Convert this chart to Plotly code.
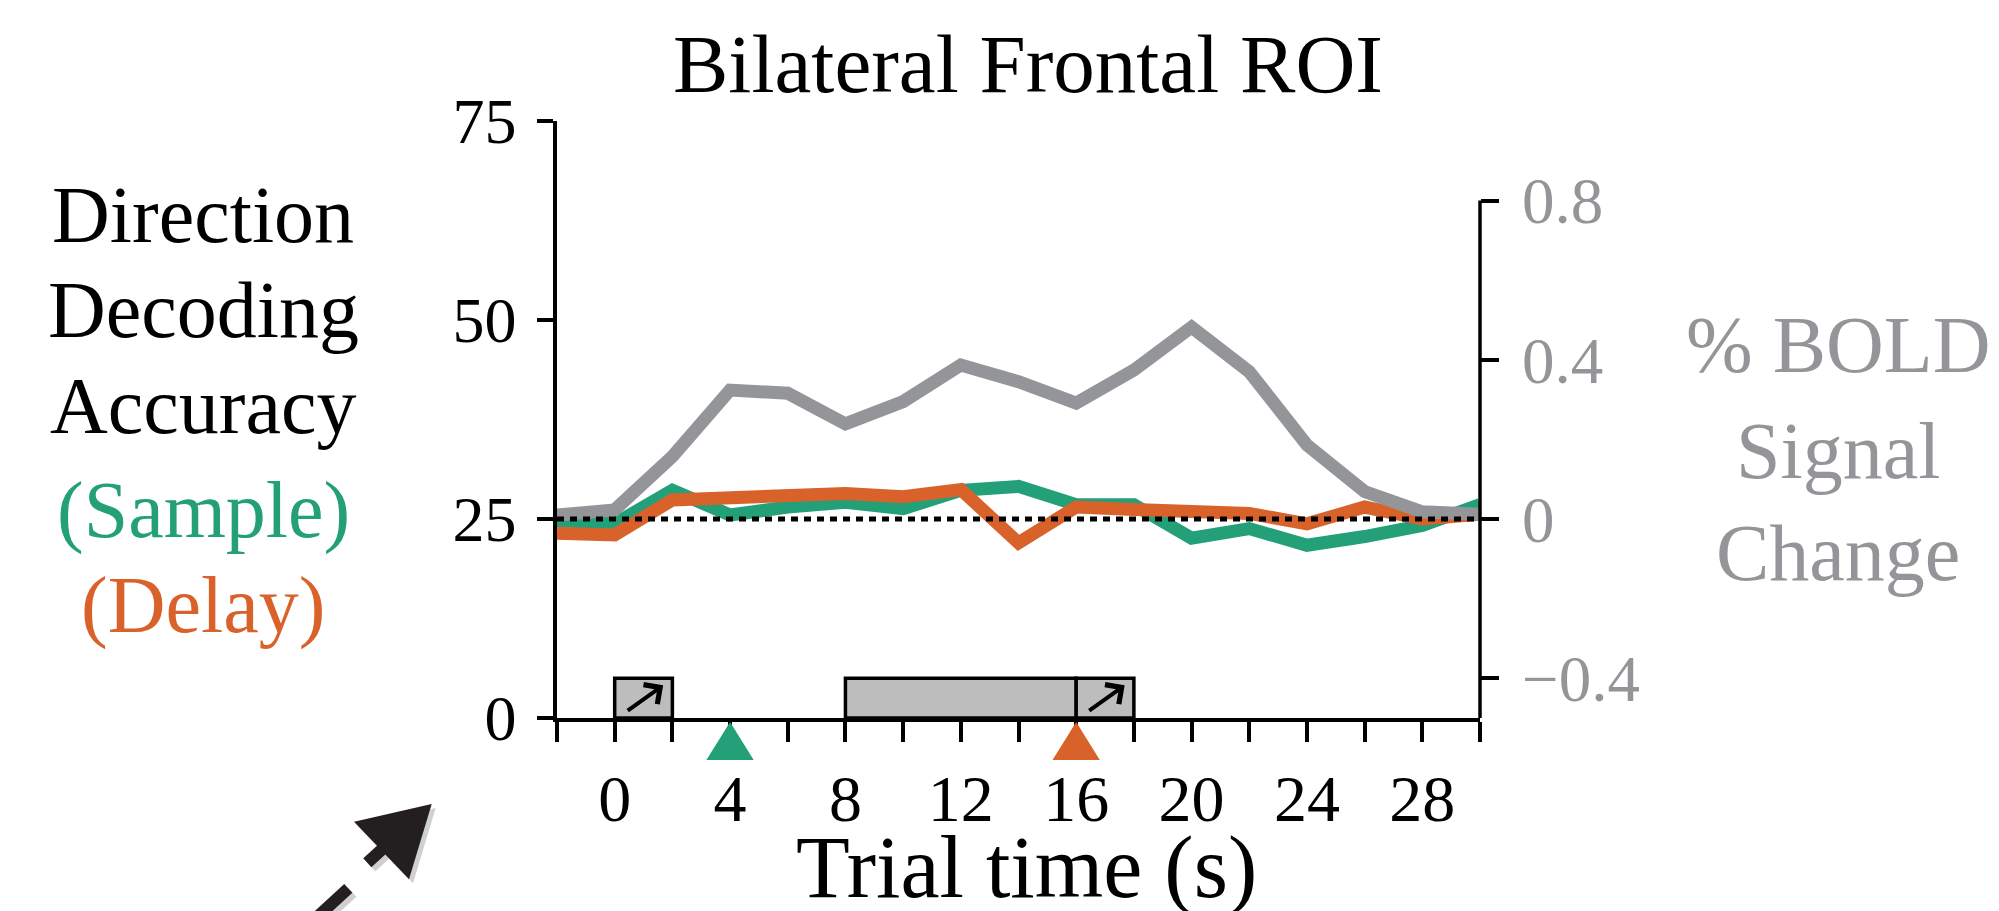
import plotly.graph_objects as go

# ---------------- data ----------------
time_s = [-2, 0, 2, 4, 6, 8, 10, 12, 14, 16, 18, 20, 22, 24, 26, 28, 30]
bold_pct = [0.010, 0.023, 0.157, 0.324, 0.316, 0.239, 0.295, 0.387, 0.345,
            0.291, 0.374, 0.482, 0.370, 0.186, 0.069, 0.018, 0.012]
sample_acc = [24.8, 24.4, 28.6, 25.5, 26.5, 27.1, 26.3, 28.6, 29.1,
              26.8, 26.8, 22.6, 23.8, 21.7, 22.8, 24.2, 26.8]
delay_acc = [23.2, 23.0, 27.4, 27.8, 27.8, 28.2, 27.8, 28.7, 22.0,
             26.5, 26.2, 25.9, 25.7, 24.4, 26.5, 25.0, 25.6]
chance_level = 25

x_tick_vals = [-2, 0, 2, 4, 6, 8, 10, 12, 14, 16, 18, 20, 22, 24, 26, 28, 30]
x_tick_text = ["", "0", "", "4", "", "8", "", "12", "", "16", "", "20", "", "24", "", "28", ""]
left_tick_vals = [0, 25, 50, 75]
left_tick_text = ["0", "25", "50", "75"]
right_tick_vals = [-0.4, 0, 0.4, 0.8]
right_tick_text = ["\u22120.4", "0", "0.4", "0.8"]

epoch_start = [0, 8, 16]
epoch_end = [2, 16, 18]
epoch_height = 5
cue_epoch_index = [0, 2]
onset_times = [4, 16]

# ---------------- styles ----------------
GREEN = "#23a078"
ORANGE = "#d9622a"
GREY = "#939598"
BOXFILL = "#bdbdbd"
FONT = "Liberation Serif"
ONSET_COLORS = [GREEN, ORANGE]
LINE_W = 13

# page body has an 8px margin: the figure is shrunk so the plot sits at
# the same screen position as the reference
PAGE_OFF = 8
SCREEN_W, SCREEN_H = 1999, 911
W, H = SCREEN_W - PAGE_OFF, SCREEN_H - PAGE_OFF
L, R, T, B = 557, 1480, 121, 718   # plot area in screen pixels


def fx(px):
    return (px - L) / (R - L)


def fy(py):
    return (B - py) / (B - T)


fig = go.Figure()

fig.add_trace(go.Scatter(x=time_s, y=bold_pct, yaxis="y2", mode="lines",
                         line=dict(color=GREY, width=LINE_W), showlegend=False,
                         hoverinfo="skip"))
fig.add_trace(go.Scatter(x=time_s, y=sample_acc, mode="lines",
                         line=dict(color=GREEN, width=LINE_W), showlegend=False,
                         hoverinfo="skip"))
fig.add_trace(go.Scatter(x=time_s, y=delay_acc, mode="lines",
                         line=dict(color=ORANGE, width=LINE_W), showlegend=False,
                         hoverinfo="skip"))

shapes = []
# chance line
shapes.append(dict(type="line", xref="x", yref="y", x0=time_s[0], x1=time_s[-1],
                   y0=chance_level, y1=chance_level,
                   line=dict(color="black", width=5, dash="7px,6px"), layer="above"))
# epoch boxes
for s, e in zip(epoch_start, epoch_end):
    shapes.append(dict(type="rect", xref="x", yref="y", x0=s, x1=e, y0=0, y1=epoch_height,
                       fillcolor=BOXFILL, line=dict(color="black", width=3.5), layer="above"))
# onset triangles below the time axis (x in data units, y in paper units)
half_w = 0.82
tri_top, tri_bot = fy(722), fy(760)
for t, c in zip(onset_times, ONSET_COLORS):
    path = "M{},{} L{},{} L{},{} Z".format(t - half_w, tri_bot, t + half_w, tri_bot, t, tri_top)
    shapes.append(dict(type="path", xref="x", yref="paper", path=path,
                       fillcolor=c, line=dict(width=0), layer="above"))
# right axis line (stops at 0.8)
shapes.append(dict(type="line", xref="paper", yref="y2", x0=1, x1=1,
                   y0=-0.5, y1=right_tick_vals[-1],
                   line=dict(color="black", width=3.5)))


# decorative dashed arrow bottom-left
def arrow_shapes(dx, dy, color, opacity):
    out = []
    tip = (431.7 + dx, 804 + dy)
    a = (354 + dx, 821.7 + dy)
    b = (409 + dx, 879.3 + dy)
    path = "M{},{} L{},{} L{},{} Z".format(fx(tip[0]), fy(tip[1]), fx(a[0]), fy(a[1]),
                                           fx(b[0]), fy(b[1]))
    out.append(dict(type="path", xref="paper", yref="paper", path=path,
                    fillcolor=color, line=dict(width=0), opacity=opacity))
    for (x0, y0, x1, y1) in [(384, 847.5, 367.3, 862.7), (348.3, 888.3, 315, 919)]:
        out.append(dict(type="line", xref="paper", yref="paper",
                        x0=fx(x0 + dx), y0=fy(y0 + dy), x1=fx(x1 + dx), y1=fy(y1 + dy),
                        line=dict(color=color, width=12), opacity=opacity))
    return out


shapes += arrow_shapes(4, 4, "#777777", 0.35)
shapes += arrow_shapes(0, 0, "#231f20", 1.0)

annotations = []
# arrows in cue boxes
for i in cue_epoch_index:
    s = epoch_start[i]
    annotations.append(dict(x=s + 1.68, y=4.1, ax=s + 0.4, ay=0.8, xref="x", yref="y",
                            axref="x", ayref="y", text="", showarrow=True, arrowhead=4,
                            arrowwidth=4, arrowsize=1.15, arrowcolor="black",
                            standoff=0, startstandoff=0))


def text_ann(txt, cx, baseline, size, color="black"):
    cy = baseline - 0.3375 * size
    return dict(text=txt, x=fx(cx), y=fy(cy), xref="paper", yref="paper",
                xanchor="center", yanchor="middle", showarrow=False,
                font=dict(family=FONT, size=size, color=color))


annotations.append(text_ann("Bilateral Frontal ROI", 1028, 92, 83))
annotations.append(text_ann("Trial time (s)", 1026, 897, 88))
for txt, bl, col in [("Direction", 242, "black"), ("Decoding", 337, "black"),
                     ("Accuracy", 433, "black"), ("(Sample)", 538, GREEN),
                     ("(Delay)", 632, ORANGE)]:
    annotations.append(text_ann(txt, 203, bl, 80, col))
for txt, bl in [("% BOLD", 372), ("Signal", 478), ("Change", 580)]:
    annotations.append(text_ann(txt, 1838, bl, 80, GREY))

fig.update_layout(
    width=W, height=H,
    margin=dict(l=L - PAGE_OFF, r=SCREEN_W - R, t=T - PAGE_OFF, b=SCREEN_H - B, pad=0),
    paper_bgcolor="white", plot_bgcolor="white",
    font=dict(family=FONT, color="black"),
    showlegend=False,
    xaxis=dict(range=[time_s[0], time_s[-1]], showline=True, linecolor="black", linewidth=3.5,
               ticks="outside", ticklen=20, tickwidth=3.5, tickcolor="black",
               tickvals=x_tick_vals, ticktext=x_tick_text,
               tickfont=dict(family=FONT, size=66, color="black"),
               showgrid=False, zeroline=False, fixedrange=True),
    yaxis=dict(range=[0, 75], showline=True, linecolor="black", linewidth=3.5,
               ticks="outside", ticklen=16, tickwidth=3.5, tickcolor="black",
               tickvals=left_tick_vals, ticktext=left_tick_text,
               tickfont=dict(family=FONT, size=64, color="black"),
               ticklabelstandoff=8,
               showgrid=False, zeroline=False, fixedrange=True),
    yaxis2=dict(range=[-0.5, 1.0], overlaying="y", side="right", anchor="x",
                showline=False, ticks="outside", ticklen=18, tickwidth=3.5, tickcolor="black",
                tickvals=right_tick_vals, ticktext=right_tick_text,
                tickfont=dict(family=FONT, size=65, color=GREY),
                ticklabelstandoff=10,
                showgrid=False, zeroline=False, fixedrange=True),
    shapes=shapes,
    annotations=annotations,
)

fig.write_html("out.html")
